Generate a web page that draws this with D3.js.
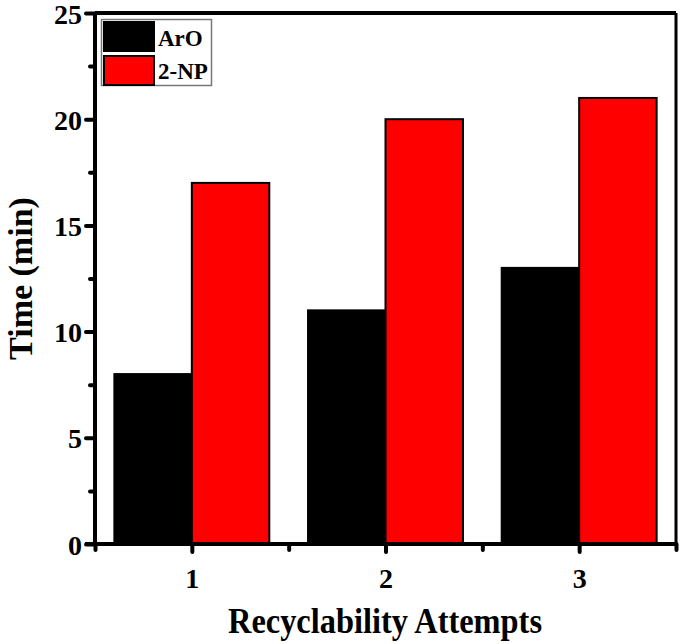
<!DOCTYPE html>
<html><head><meta charset="utf-8">
<script src="https://cdn.jsdelivr.net/npm/d3@7"></script>
<style>body{margin:0;background:#fff}svg{display:block}</style>
</head><body>
<script>
const categories = [1, 2, 3];
const seriesNames = ["ArO", "2-NP"];
const aroValues = [8, 11, 13];
const npValues = [17, 20, 21];
const yTicks = [0, 5, 10, 15, 20, 25];
const yMinorTicks = [2.5, 7.5, 12.5, 17.5, 22.5];
const xMinorTicks = [0.5, 1.5, 2.5, 3.5];
const colors = ["#000000", "#ff0000"];

const W = 685, H = 644;
const L = 95, R = 676, T = 13, B = 544;
const font = "'Liberation Serif','Times New Roman',serif";

const svg = d3.select("body").append("svg").attr("width", W).attr("height", H);
const x = d3.scaleLinear().domain([0.5, 3.5]).range([L, R]);
const y = d3.scaleLinear().domain([0, 25]).range([B, T]);

const barW = 0.4;
const series = [aroValues, npValues];
series.forEach((vals, si) => {
  svg.append("g").selectAll("rect").data(categories.map((c, i) => ({c, v: vals[i]})))
    .join("rect")
    .attr("x", d => x(d.c - barW + si * barW))
    .attr("width", d => x(d.c + barW) - x(d.c))
    .attr("y", d => y(d.v))
    .attr("height", d => y(0) - y(d.v))
    .attr("fill", colors[si])
    .attr("stroke", "#000").attr("stroke-width", 2);
});

// frame top & right
svg.append("line").attr("x1", L).attr("x2", R).attr("y1", T).attr("y2", T).attr("stroke", "#000").attr("stroke-width", 4);
svg.append("line").attr("x1", R).attr("x2", R).attr("y1", T).attr("y2", B).attr("stroke", "#000").attr("stroke-width", 3);

// y axis
const yAxis = svg.append("g").attr("transform", `translate(${L},0)`)
  .call(d3.axisLeft(y).tickValues(yTicks).tickSize(9).tickPadding(4).tickFormat(d3.format("d")));
yAxis.select(".domain").attr("stroke-width", 4).attr("d", `M0,${T}V${B}`);
yAxis.selectAll(".tick line").attr("stroke-width", 4).attr("stroke-linecap", "round");
yAxis.selectAll(".tick text").attr("font-family", font).attr("font-weight", "bold").attr("font-size", 28).attr("fill", "#000")
  .attr("dy", "0.36em");
const yMinor = svg.append("g").attr("transform", `translate(${L},0)`)
  .call(d3.axisLeft(y).tickValues(yMinorTicks).tickSize(5).tickFormat(""));
yMinor.select(".domain").remove();
yMinor.selectAll(".tick line").attr("stroke-width", 4).attr("stroke-linecap", "round");

// x axis
const xAxis = svg.append("g").attr("transform", `translate(0,${B})`)
  .call(d3.axisBottom(x).tickValues(categories).tickSize(8).tickPadding(16).tickFormat(d3.format("d")));
xAxis.select(".domain").attr("stroke-width", 4).attr("d", `M${L - 10},0H${R + 1}`);
xAxis.selectAll(".tick line").attr("stroke-width", 4).attr("stroke-linecap", "round");
xAxis.selectAll(".tick text").attr("font-family", font).attr("font-weight", "bold").attr("font-size", 28).attr("fill", "#000");
const xMinor = svg.append("g").attr("transform", `translate(0,${B})`)
  .call(d3.axisBottom(x).tickValues(xMinorTicks).tickSize(6).tickFormat(""));
xMinor.select(".domain").remove();
xMinor.selectAll(".tick line").attr("stroke-width", 4).attr("stroke-linecap", "round");

// titles
svg.append("text").attr("x", 228).attr("y", 633)
  .attr("textLength", 314).attr("lengthAdjust", "spacingAndGlyphs")
  .attr("font-family", font).attr("font-weight", "bold").attr("font-size", 35).text("Recyclability Attempts");
svg.append("text").attr("transform", `translate(32,${(T + B) / 2}) rotate(-90)`).attr("text-anchor", "middle")
  .attr("font-family", font).attr("font-weight", "bold").attr("font-size", 34).text("Time (min)");

// legend
const lg = svg.append("g");
lg.append("rect").attr("x", 101.5).attr("y", 19.5).attr("width", 110).attr("height", 66)
  .attr("fill", "#fff").attr("stroke", "#777").attr("stroke-width", 1.5);
seriesNames.forEach((n, i) => {
  lg.append("rect").attr("x", 104).attr("y", 22 + i * 34).attr("width", 50).attr("height", 29)
    .attr("fill", colors[i]).attr("stroke", "#000").attr("stroke-width", 2);
  lg.append("text").attr("x", 158).attr("y", 46 + i * 33).attr("font-family", font)
    .attr("font-weight", "bold").attr("font-size", 23).text(n);
});
</script>
</body></html>
